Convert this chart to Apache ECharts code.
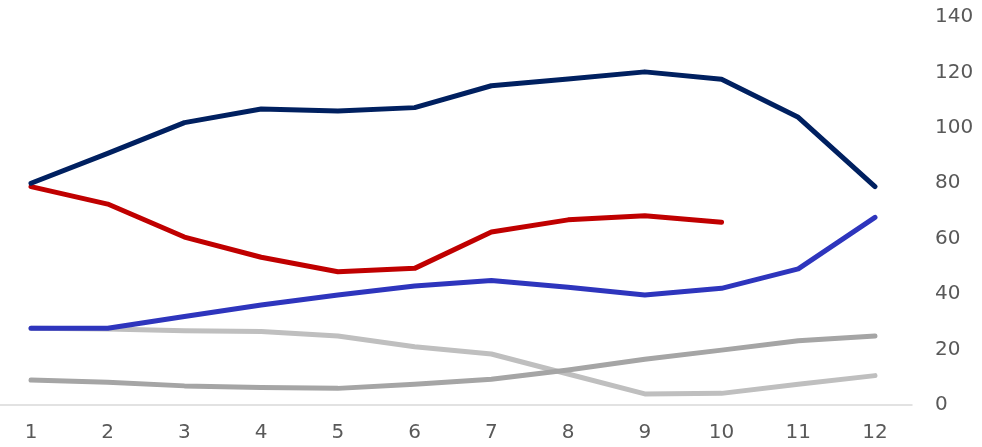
<!DOCTYPE html>
<html>
<head>
<meta charset="utf-8">
<script src="https://cdn.jsdelivr.net/npm/echarts@6/dist/echarts.min.js"></script>
<style>
  html, body { margin: 0; padding: 0; background: #ffffff; }
  #chart { width: 982px; height: 447px; }
</style>
</head>
<body>
<div id="chart"></div>
<script>
// Monthly categories along the bottom axis
const months = ['1', '2', '3', '4', '5', '6', '7', '8', '9', '10', '11', '12'];

// Series values (right-hand axis, 0–140)
const navySeries = [80.0, 90.8, 101.9, 106.8, 106.1, 107.3, 115.2, 117.6, 120.2, 117.5, 103.8, 78.8];
const redSeries = [78.8, 72.5, 60.6, 53.3, 48.1, 49.3, 62.4, 66.8, 68.3, 65.9, null, null];
const blueSeries = [27.7, 27.7, 31.9, 36.1, 39.7, 42.9, 44.9, 42.5, 39.7, 42.1, 49.1, 67.7];
const lightGraySeries = [27.7, 27.4, 26.8, 26.5, 24.9, 21.0, 18.4, 11.2, 4.0, 4.2, 7.5, 10.6];
const midGraySeries = [9.0, 8.2, 6.9, 6.3, 6.0, 7.5, 9.3, 12.6, 16.5, 19.8, 23.2, 24.9];

const yMin = 0, yMax = 140, yStep = 20;

const chart = echarts.init(document.getElementById('chart'), null, { renderer: 'canvas' });

function lineSeries(data, color) {
  return {
    type: 'line',
    xAxisIndex: 0,
    yAxisIndex: 0,
    data: data,
    symbol: 'none',
    smooth: false,
    connectNulls: false,
    lineStyle: { color: color, width: 5, cap: 'round', join: 'round' },
    emphasis: { disabled: true }
  };
}

const labelFont = {
  color: '#595959',
  fontSize: 20,
  fontFamily: '"DejaVu Sans", Verdana, sans-serif'
};

chart.setOption({
  animation: false,
  backgroundColor: '#ffffff',
  grid: [
    // plotting area: first and last month sit on the grid edges
    { left: 31, right: 107, top: 17, bottom: 42, containLabel: false },
    // wider grid that only carries the baseline under the plot
    { left: 0, right: 70, top: 17, bottom: 42, containLabel: false }
  ],
  xAxis: [
    {
      type: 'category',
      gridIndex: 0,
      data: months,
      boundaryGap: false,
      axisLine: { show: false },
      axisTick: { show: false },
      axisLabel: Object.assign({ margin: 18 }, labelFont),
      splitLine: { show: false }
    },
    {
      type: 'category',
      gridIndex: 1,
      data: months,
      axisLine: { show: true, lineStyle: { color: '#D9D9D9', width: 1.5 } },
      axisTick: { show: false },
      axisLabel: { show: false },
      splitLine: { show: false }
    }
  ],
  yAxis: [
    {
      type: 'value',
      gridIndex: 0,
      position: 'right',
      min: yMin,
      max: yMax,
      interval: yStep,
      axisLine: { show: false },
      axisTick: { show: false },
      axisLabel: Object.assign({ margin: 60, align: 'left' }, labelFont),
      splitLine: { show: false }
    },
    {
      type: 'value',
      gridIndex: 1,
      min: yMin,
      max: yMax,
      show: false
    }
  ],
  series: [
    lineSeries(lightGraySeries, '#BFBFBF'),
    lineSeries(midGraySeries, '#A5A5A5'),
    lineSeries(blueSeries, '#2E35BD'),
    lineSeries(redSeries, '#C00000'),
    lineSeries(navySeries, '#002060')
  ]
});
</script>
</body>
</html>
